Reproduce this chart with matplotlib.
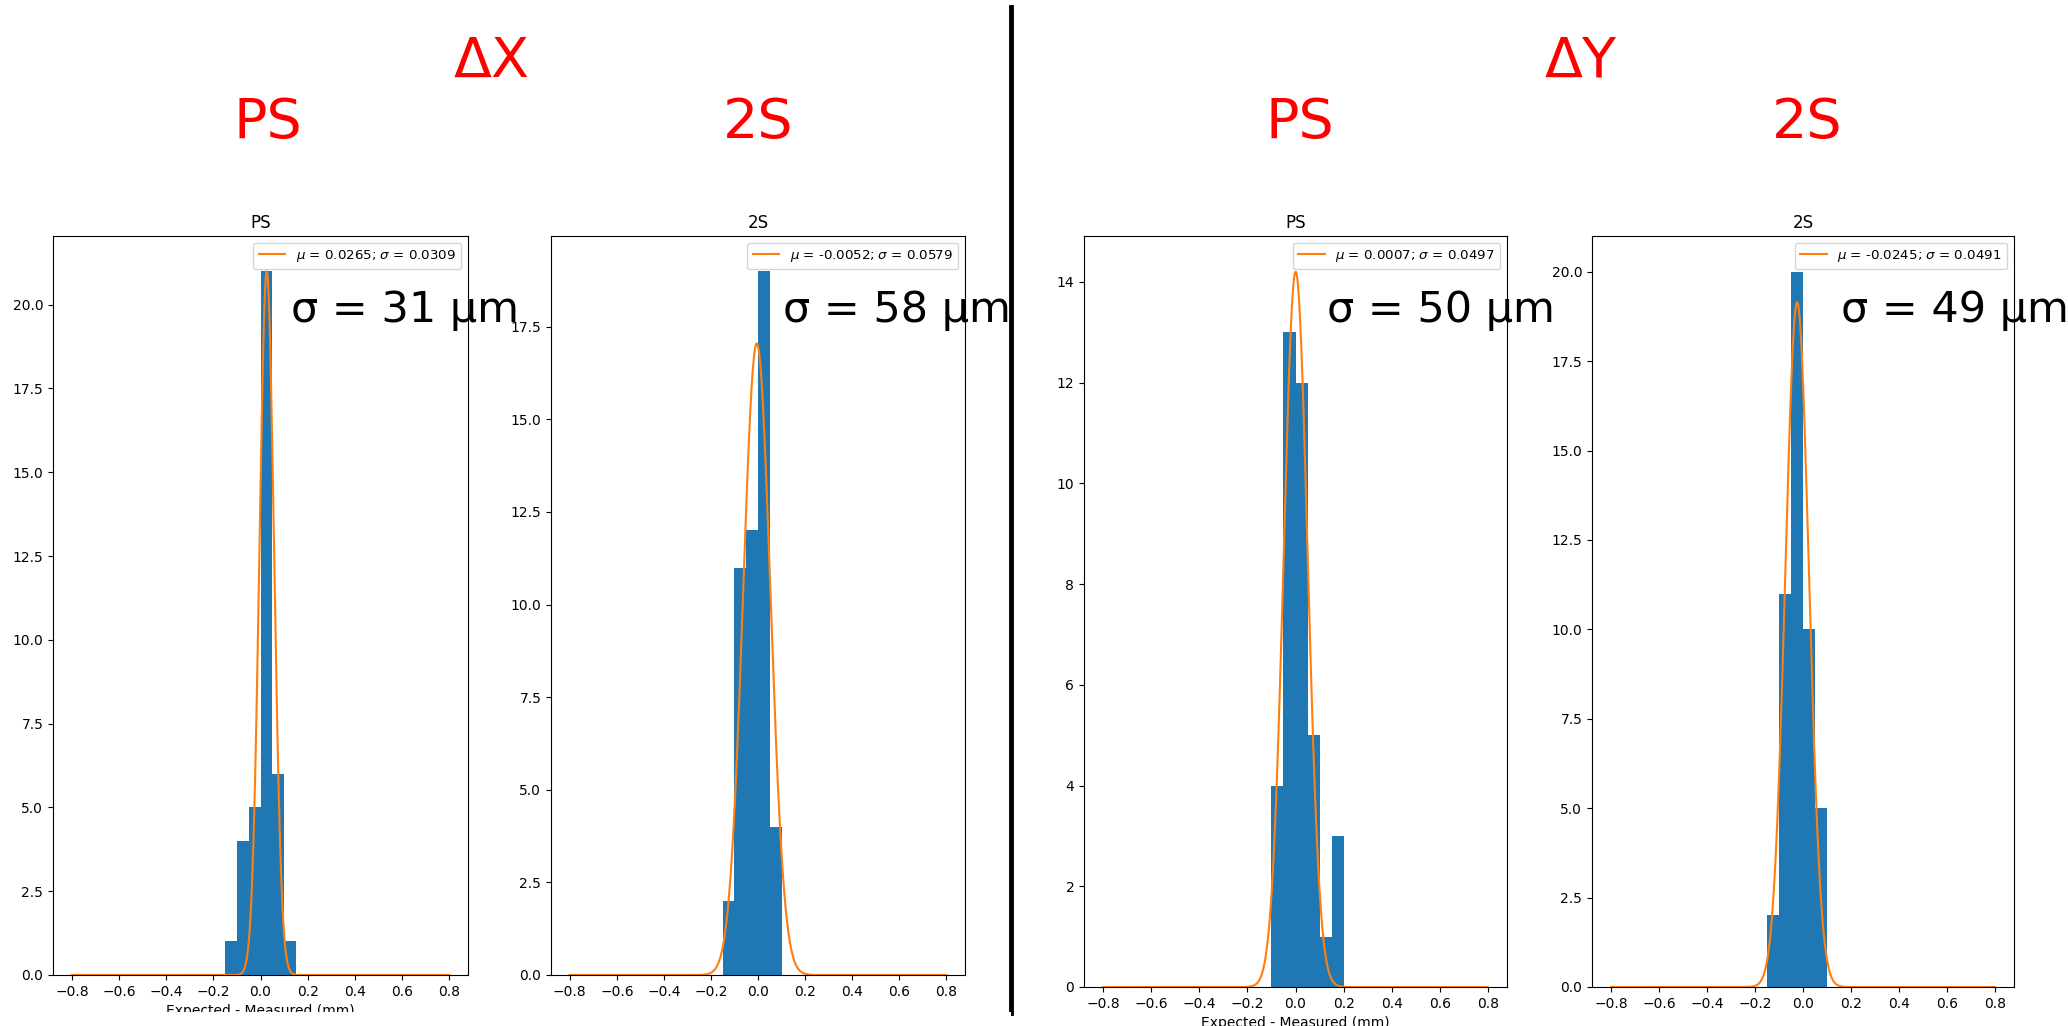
import numpy as np
import matplotlib
matplotlib.use("Agg")
import matplotlib.pyplot as plt
from matplotlib.patches import Rectangle

# ---- data ----
bin_edges = [-0.15, -0.10, -0.05, 0.00, 0.05, 0.10, 0.15, 0.20]
counts_dx_ps = [1, 4, 5, 21, 6, 1, 0]
counts_dx_2s = [2, 11, 12, 19, 4, 0, 0]
counts_dy_ps = [0, 4, 13, 12, 5, 1, 3]
counts_dy_2s = [2, 11, 20, 10, 5, 0, 0]

mu_vals = [0.0265, -0.0052, 0.0007, -0.0245]
sigma_vals = [0.0309, 0.0579, 0.0497, 0.0491]
amp_vals = [21.0, 17.05, 14.2, 19.15]
sigma_um_labels = ["σ = 31 μm", "σ = 58 μm", "σ = 50 μm", "σ = 49 μm"]
panel_titles = ["PS", "2S", "PS", "2S"]
group_titles = ["ΔX", "ΔY"]
xlabel_text = "Expected - Measured (mm)"
fit_range = (-0.8, 0.8)

all_counts = [counts_dx_ps, counts_dx_2s, counts_dy_ps, counts_dy_2s]

fig = plt.figure(figsize=(20.68, 10.26), dpi=100)
W, H = 2068.0, 1026.0

# axes boxes in pixels: left, right, top, bottom
boxes = [
    (53, 468, 236, 975),
    (551, 965, 236, 975),
    (1084, 1507, 236, 987),
    (1592, 2014, 236, 987),
]
sigma_text_pos = [(291, 310), (783, 310), (1327, 310), (1841, 310)]

edges = np.array(bin_edges)
centers = 0.5 * (edges[:-1] + edges[1:])
xs = np.linspace(fit_range[0], fit_range[1], 1000)

for i, (l, r, t, b) in enumerate(boxes):
    ax = fig.add_axes([l / W, 1 - b / H, (r - l) / W, (b - t) / H])
    ax.hist(centers, bins=edges, weights=all_counts[i], color="#1f77b4")
    mu, sg, A = mu_vals[i], sigma_vals[i], amp_vals[i]
    ys = A * np.exp(-0.5 * ((xs - mu) / sg) ** 2)
    ax.plot(xs, ys, color="#ff7f0e",
            label=r"$\mu$ = %.4f; $\sigma$ = %.4f" % (mu, sg))
    ax.set_title(panel_titles[i], fontsize=12)
    ax.legend(loc="upper right", fontsize=9.6)
    ax.tick_params(labelsize=10)
    if i in (0, 2):
        ax.set_xlabel(xlabel_text, fontsize=10)
    tx, ty = sigma_text_pos[i]
    fig.text(tx / W, 1 - ty / H, sigma_um_labels[i], fontsize=31,
             ha="left", va="center", color="black")

# big red headers
red_texts = [(group_titles[0], 492, 62), ("PS", 268, 123), ("2S", 758, 123),
             (group_titles[1], 1581, 62), ("PS", 1300, 123), ("2S", 1807, 123)]
for s, x, y in red_texts:
    fig.text(x / W, 1 - y / H, s, fontsize=40, color="red",
             ha="center", va="center")

# white strip: left image ends above figure bottom
fig.patches.append(Rectangle((0, 0), 1011 / W, 14 / H, transform=fig.transFigure,
                             facecolor="white", edgecolor="none", zorder=10))

# separator line
fig.add_artist(plt.Line2D([1011 / W, 1011 / W], [1 - 1013 / H, 1 - 7 / H],
                          transform=fig.transFigure, color="black", linewidth=3.5))

fig.savefig("out.png", dpi=100)
